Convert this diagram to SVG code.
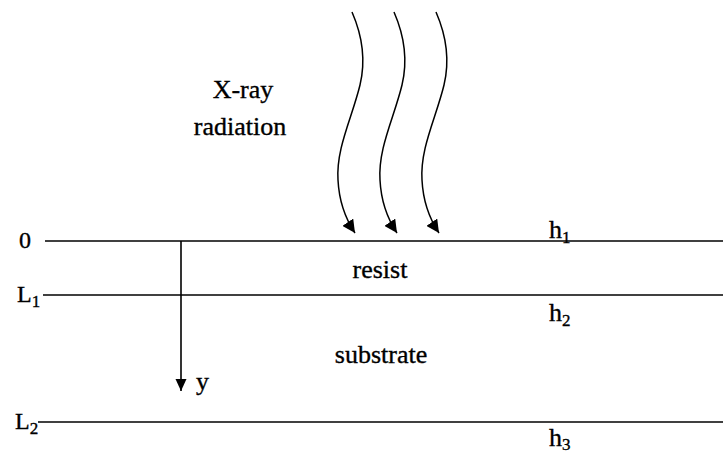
<svg xmlns="http://www.w3.org/2000/svg" width="723" height="455" viewBox="0 0 723 455">
<style>
text{font-family:"Liberation Serif","Times New Roman",Times,serif;fill:#000;stroke:#000;stroke-width:0.35}
.t{font-size:26px}
.s{font-size:24px}
.sub{font-size:17px}
.ln{stroke:#000;stroke-width:1.6;fill:none}
.wave{stroke:#000;stroke-width:1.5;fill:none;marker-end:url(#ah)}
</style>
<defs>
<marker id="ah" markerUnits="userSpaceOnUse" markerWidth="14" markerHeight="13" refX="13" refY="6.5" orient="auto">
<path d="M0,0 L13,6.5 L0,13 z" fill="#000"/>
</marker>
<marker id="ah2" markerUnits="userSpaceOnUse" markerWidth="12" markerHeight="12" refX="12" refY="5.5" orient="auto">
<path d="M0,0 L12,5.5 L0,11 z" fill="#000"/>
</marker>
<path id="w" d="M352,12 C362,35 366,60 360,85 C352,118 336,148 338,180 C339,200 345,218 355,233"/>
</defs>
<g id="connectors">
<use href="#w" class="wave"/>
<use href="#w" class="wave" transform="translate(42,0)"/>
<use href="#w" class="wave" transform="translate(84,0)"/>
<line class="ln" x1="181" y1="241" x2="181" y2="391" style="marker-end:url(#ah2)"/>
</g>
<g id="surface0">
<line class="ln" x1="45" y1="241" x2="723" y2="241"/>
<text class="s" x="19" y="248">0</text>
<text class="t" x="549" y="238">h<tspan class="sub" dy="5">1</tspan></text>
</g>
<g id="surfaceL1">
<line class="ln" x1="43" y1="295" x2="723" y2="295"/>
<text class="s" x="17" y="302">L<tspan class="sub" dy="5">1</tspan></text>
<text class="t" x="549" y="321">h<tspan class="sub" dy="5">2</tspan></text>
</g>
<g id="surfaceL2">
<line class="ln" x1="38" y1="422" x2="723" y2="422"/>
<text class="s" x="15" y="429">L<tspan class="sub" dy="5">2</tspan></text>
<text class="t" x="549" y="446">h<tspan class="sub" dy="4">3</tspan></text>
</g>
<g id="labels">
<text class="t" x="243" y="98" text-anchor="middle">X-ray</text>
<text class="t" x="240" y="135" text-anchor="middle">radiation</text>
<text class="t" x="380" y="278" text-anchor="middle">resist</text>
<text class="t" x="381" y="363" text-anchor="middle">substrate</text>
<text class="t" x="196" y="390">y</text>
</g>
</svg>
